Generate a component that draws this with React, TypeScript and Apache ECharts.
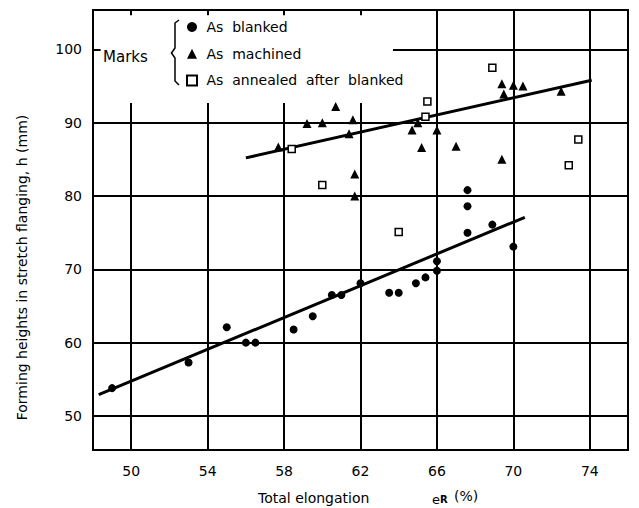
import React, { useEffect, useRef } from 'react';
import * as echarts from 'echarts';

// Tick values
const xTicks = [50, 54, 58, 62, 66, 70, 74];
const yTicks = [50, 60, 70, 80, 90, 100];

// Series values: [total elongation eR (%), forming height h (mm)]
const blanked: [number, number][] = [
  [49.0, 53.8], [53.0, 57.3], [55.0, 62.1], [56.0, 60.0], [56.5, 60.0],
  [58.5, 61.8], [59.5, 63.6], [60.5, 66.5], [61.0, 66.5], [62.0, 68.1],
  [63.5, 66.8], [64.0, 66.8], [64.9, 68.1], [65.4, 68.9], [66.0, 69.8],
  [66.0, 71.1], [67.6, 80.8], [67.6, 78.6], [67.6, 75.0], [68.9, 76.1],
  [70.0, 73.1],
];
const machined: [number, number][] = [
  [57.7, 86.7], [59.2, 89.9], [60.0, 90.0], [60.7, 92.2], [61.4, 88.5],
  [61.6, 90.4], [61.7, 83.0], [61.7, 80.0], [64.7, 89.0], [65.0, 90.0],
  [65.2, 86.6], [66.0, 89.0], [67.0, 86.8], [69.4, 95.3], [69.5, 93.9],
  [69.4, 85.0], [70.0, 95.1], [70.5, 95.0], [72.5, 94.3],
];
const annealed: [number, number][] = [
  [58.4, 86.4], [60.0, 81.5], [64.0, 75.1], [65.4, 90.8], [65.5, 92.9],
  [68.9, 97.5], [72.9, 84.2], [73.4, 87.7],
];
// Fitted lines (end points)
const fitBlanked: [number, number][] = [[48.3, 52.9], [70.6, 77.1]];
const fitMachined: [number, number][] = [[56.0, 85.2], [74.1, 95.8]];

const seriesNames = ['As blanked', 'As machined', 'As annealed after blanked'];

// Axis extents
const xMin = 48;
const xMax = 76;
const yMin = 45.36;
const yMax = 105.37;

const FONT = '"DejaVu Sans", "Noto Sans", sans-serif';
const INK = '#000';

export default function App() {
  const ref = useRef<HTMLDivElement>(null);

  useEffect(() => {
    if (!ref.current) return;
    const chart = echarts.init(ref.current, undefined, { renderer: 'svg' });

    const partialTop = 92.7; // vertical grid lines under the legend stop here
    const y100Start = 63.7; // horizontal 100 grid line starts here

    const gridLines: any[] = [];
    xTicks.forEach((x) => {
      gridLines.push({ coords: [[x, yMin], [x, x <= 62 ? partialTop : yMax]] });
    });
    yTicks.forEach((y) => {
      gridLines.push({ coords: [[y === 100 ? y100Start : xMin, y], [xMax, y]] });
    });
    xTicks.filter((x) => x <= 62).forEach((x) => {
      gridLines.push({ coords: [[x, yMax], [x, yMax - 0.7]] });
    });
    gridLines.push({ coords: [[xMin, 100], [xMin + 0.4, 100]] });

    const option: any = {
      animation: false,
      backgroundColor: '#fff',
      textStyle: { fontFamily: FONT, color: INK },
      grid: {
        left: 93,
        top: 10,
        right: 11,
        bottom: 58,
        show: true,
        borderColor: INK,
        borderWidth: 2,
        backgroundColor: 'transparent',
      },
      xAxis: {
        type: 'value',
        min: xMin,
        max: xMax,
        interval: 2,
        axisLine: { show: false },
        axisTick: { show: false },
        splitLine: { show: false },
        axisLabel: {
          margin: 14,
          fontSize: 14,
          fontFamily: FONT,
          color: INK,
          formatter: (v: number) => (xTicks.includes(Math.round(v)) && Math.abs(v - Math.round(v)) < 1e-6 ? String(Math.round(v)) : ''),
        },
      },
      yAxis: {
        type: 'value',
        min: yMin,
        max: yMax,
        splitNumber: 6,
        axisLine: { show: false },
        axisTick: { show: false },
        splitLine: { show: false },
        axisLabel: {
          margin: 11,
          fontSize: 14,
          fontFamily: FONT,
          color: INK,
          formatter: (v: number) => {
            const r = Math.round(v);
            return Math.abs(v - r) < 1e-6 && yTicks.includes(r) ? String(r) : '';
          },
        },
      },
      legend: {
        orient: 'vertical',
        left: 181,
        top: 14,
        itemWidth: 10,
        itemHeight: 10,
        itemGap: 10.7,
        data: seriesNames,
        textStyle: { fontSize: 14, fontFamily: FONT, color: INK, lineHeight: 16 },
        formatter: (n: string) => '\u00a0' + n.replace(/ /g, '\u00a0\u00a0'),
        selectedMode: false,
      },
      series: [
        {
          type: 'lines',
          coordinateSystem: 'cartesian2d',
          silent: true,
          z: 1,
          lineStyle: { color: INK, width: 2, opacity: 1 },
          data: gridLines,
        },
        {
          type: 'line',
          data: fitBlanked,
          symbol: 'none',
          z: 2,
          silent: true,
          lineStyle: { color: INK, width: 3 },
        },
        {
          type: 'line',
          data: fitMachined,
          symbol: 'none',
          z: 2,
          silent: true,
          lineStyle: { color: INK, width: 3 },
        },
        {
          name: seriesNames[0],
          type: 'scatter',
          data: blanked,
          symbol: 'circle',
          symbolSize: 8,
          z: 3,
          itemStyle: { color: INK, opacity: 1 },
        },
        {
          name: seriesNames[1],
          type: 'scatter',
          data: machined,
          symbol: 'triangle',
          symbolSize: 9,
          z: 3,
          itemStyle: { color: INK, opacity: 1 },
        },
        {
          name: seriesNames[2],
          type: 'scatter',
          data: annealed,
          symbol: 'rect',
          symbolSize: 7,
          z: 3,
          itemStyle: { color: '#fff', borderColor: INK, borderWidth: 1.5, opacity: 1 },
        },
      ],
      graphic: [
        {
          type: 'text',
          left: 103,
          top: 49,
          style: { text: 'Marks', fontSize: 15, fontFamily: FONT, fill: INK },
        },
        {
          type: 'polyline',
          shape: {
            points: [[179, 20], [175, 23], [175, 48], [171.5, 53], [175, 58], [175, 81], [179, 85]],
          },
          style: { stroke: INK, lineWidth: 1.5, fill: 'none' },
        },
        {
          type: 'text',
          x: 22,
          y: 267.5,
          rotation: Math.PI / 2,
          style: {
            text: 'Forming heights in stretch flanging, h (mm)',
            fontSize: 14,
            fontFamily: FONT,
            fill: INK,
            align: 'center',
            verticalAlign: 'middle',
          },
        },
        {
          type: 'text',
          x: 258,
          y: 498,
          style: {
            text: 'Total elongation',
            fontSize: 14,
            fontFamily: FONT,
            fill: INK,
            align: 'left',
            verticalAlign: 'middle',
          },
        },
        {
          type: 'text',
          x: 432,
          y: 499,
          style: {
            text: '{a|e}{b|R}',
            fontFamily: FONT,
            fill: INK,
            align: 'left',
            verticalAlign: 'middle',
            rich: {
              a: { fontSize: 13, fontFamily: FONT, fill: INK },
              b: { fontSize: 10, fontFamily: FONT, fill: INK, fontWeight: 'bold' },
            },
          },
        },
        {
          type: 'text',
          x: 454,
          y: 496,
          style: {
            text: '(%)',
            fontSize: 14,
            fontFamily: FONT,
            fill: INK,
            align: 'left',
            verticalAlign: 'middle',
          },
        },
      ],
    };

    chart.setOption(option);
    return () => chart.dispose();
  }, []);

  return (
    <div
      ref={ref}
      style={{ position: 'fixed', left: 0, top: 0, width: 639, height: 508, background: '#fff' }}
    />
  );
}
